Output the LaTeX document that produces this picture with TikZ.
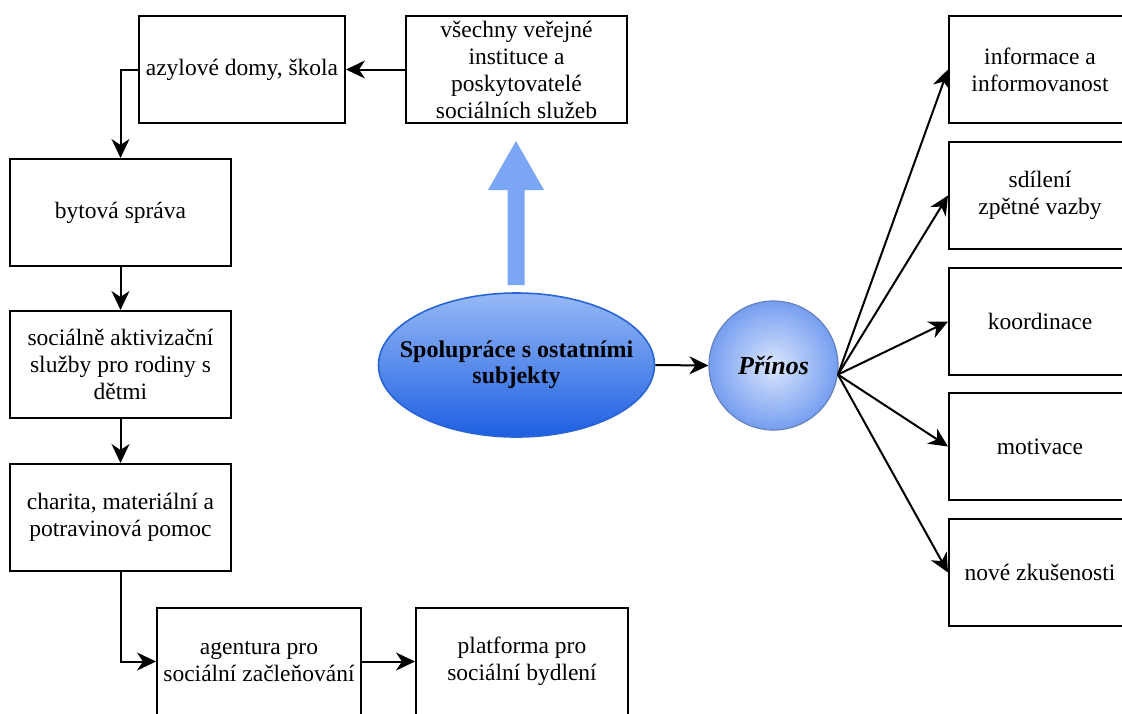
\documentclass[tikz,border=0pt]{standalone}
\usepackage{fontspec}
\setmainfont{Liberation Serif}
\usetikzlibrary{arrows.meta,shapes.geometric}
\definecolor{ellTop}{RGB}{150,185,245}
\definecolor{ellBot}{RGB}{30,95,225}
\definecolor{ellLine}{RGB}{40,100,215}
\definecolor{cirIn}{RGB}{218,230,253}
\definecolor{cirOut}{RGB}{118,158,240}
\definecolor{cirLine}{RGB}{100,130,190}
\definecolor{bigArrow}{RGB}{122,166,245}
\tikzset{
  box/.style={draw=black, line width=1pt, fill=white, minimum height=53.5pt, inner sep=1pt, align=center,
    font=\fontsize{11.75}{13.5}\selectfont},
  arr/.style={draw=black, line width=1pt, -{Stealth[length=9.5pt,width=9pt,inset=3pt]}},
}
\begin{document}
\begin{tikzpicture}[x=0.5pt,y=-0.5pt]
\useasboundingbox (0,0) rectangle (1122,713);
% left column
\node[box, minimum width=103pt] (azyl) at (242,69.5) {azylové domy, škola};
\node[box, minimum width=110.5pt] (vsechny) at (516.5,69.5) {všechny veřejné\\instituce a\\poskytovatelé\\sociálních služeb};
\node[box, minimum width=110.5pt] (bytova) at (120.5,212.5) {bytová správa};
\node[box, minimum width=110.5pt] (socialne) at (120.5,364.5) {sociálně aktivizační\\služby pro rodiny s\\dětmi};
\node[box, minimum width=110.5pt] (charita) at (120.5,517.5) {charita, materiální a\\potravinová pomoc};
\node[box, minimum width=102pt] (agentura) at (259,661.5) {agentura pro\\sociální začleňování};
\node[box, minimum width=106pt] (platforma) at (522,661.5) {platforma pro\\sociální bydlení};
% right column
\node[box, minimum width=91pt] (info) at (1040,69.5) {informace a\\informovanost};
\node[box, minimum width=91pt] (sdileni) at (1040,195.5) {sdílení\\zpětné vazby};
\node[box, minimum width=91pt] (koord) at (1040,321.5) {koordinace};
\node[box, minimum width=91pt] (motiv) at (1040,446.5) {motivace};
\node[box, minimum width=91pt] (nove) at (1040,572.5) {nové zkušenosti};
% ellipse
\node[ellipse, draw=ellLine, line width=0.8pt, top color=ellTop, bottom color=ellBot,
  minimum width=138pt, minimum height=72pt, inner sep=0pt,
  label={[font=\fontsize{12}{12.8}\selectfont\bfseries, align=center]center:Spolupráce s ostatními\\subjekty}]
  (coop) at (516.5,365) {};
% circle
\node[circle, draw=cirLine, line width=0.6pt, inner color=cirIn, outer color=cirOut,
  minimum size=64.5pt, inner sep=0pt,
  label={[font=\fontsize{13}{14}\selectfont\bfseries\itshape]center:Přínos}]
  (prinos) at (773.5,365.5) {};
% big blue arrow
\fill[bigArrow] (507.5,285) -- (524.5,285) -- (524.5,190) -- (544,190) -- (516,141) -- (488,190) -- (507.5,190) -- cycle;
% connectors
\draw[arr] (vsechny.west) -- (azyl.east);
\draw[arr] (azyl.west) -| (bytova.north);
\draw[arr] (bytova.south) -- (socialne.north);
\draw[arr] (socialne.south) -- (charita.north);
\draw[arr] (charita.south) |- (agentura.west);
\draw[arr] (agentura.east) -- (platforma.west);
\draw[arr] (coop.east) -- (prinos.west);
\coordinate (fan) at (prinos.-8);
\foreach \t in {info,sdileni,koord,motiv,nove}
  \draw[arr] (fan) -- (\t.west);
\end{tikzpicture}
\end{document}
